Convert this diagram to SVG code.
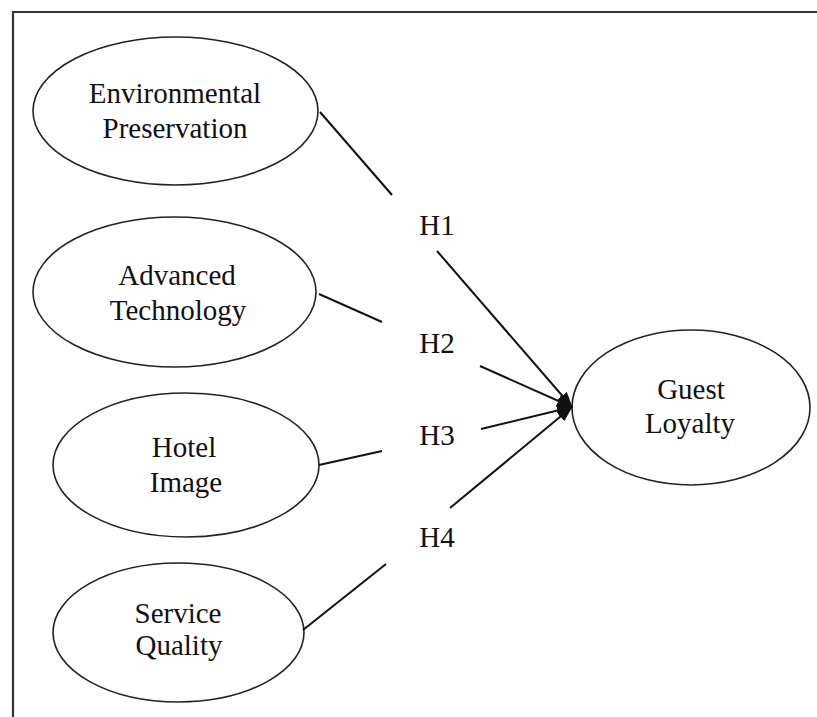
<svg xmlns="http://www.w3.org/2000/svg" width="817" height="717" viewBox="0 0 817 717">
<style>
.node{fill:#fff;stroke:#222;stroke-width:1.6}
.lbl{font-family:"Liberation Serif","Times New Roman",serif;font-size:29px;fill:#111;text-anchor:middle}
.con{stroke:#111;stroke-width:2;fill:none}
.frame{stroke:#333;stroke-width:2.2;fill:none}
</style>
<defs>
<marker id="arr" markerUnits="userSpaceOnUse" markerWidth="16" markerHeight="12" refX="15" refY="6" orient="auto">
<path d="M0,0 L16,6 L0,12 Z" fill="#111"/>
</marker>
</defs>
<rect width="817" height="717" fill="#fff"/>
<path class="frame" d="M13,717 L13,12 L817,12"/>
<g id="n1"><ellipse class="node" cx="175.5" cy="111" rx="142.5" ry="74"/>
<text class="lbl" x="175" y="103">Environmental</text><text class="lbl" x="175" y="138">Preservation</text></g>
<g id="n2"><ellipse class="node" cx="174.5" cy="292" rx="141.5" ry="75"/>
<text class="lbl" x="177" y="285">Advanced</text><text class="lbl" x="178" y="320">Technology</text></g>
<g id="n3"><ellipse class="node" cx="186" cy="465" rx="133" ry="72"/>
<text class="lbl" x="184" y="457">Hotel</text><text class="lbl" x="186" y="492">Image</text></g>
<g id="n4"><ellipse class="node" cx="178.5" cy="632.5" rx="125.5" ry="69.5"/>
<text class="lbl" x="178" y="623">Service</text><text class="lbl" x="179" y="655">Quality</text></g>
<g id="n5"><ellipse class="node" cx="691" cy="407.5" rx="119" ry="77.5"/>
<text class="lbl" x="691" y="399">Guest</text><text class="lbl" x="690" y="433">Loyalty</text></g>
<g id="connectors">
<line class="con" x1="320" y1="112" x2="392" y2="195"/>
<line class="con" x1="437" y1="251" x2="572" y2="407" marker-end="url(#arr)"/>
<line class="con" x1="319" y1="294" x2="382" y2="322"/>
<line class="con" x1="480" y1="366" x2="572" y2="407" marker-end="url(#arr)"/>
<line class="con" x1="319" y1="465" x2="382" y2="451"/>
<line class="con" x1="481" y1="429" x2="572" y2="407" marker-end="url(#arr)"/>
<line class="con" x1="303" y1="630" x2="386" y2="564"/>
<line class="con" x1="450" y1="508" x2="572" y2="407" marker-end="url(#arr)"/>
<text class="lbl" x="437" y="235">H1</text>
<text class="lbl" x="437" y="353">H2</text>
<text class="lbl" x="437" y="445">H3</text>
<text class="lbl" x="437" y="547">H4</text>
</g>
</svg>
